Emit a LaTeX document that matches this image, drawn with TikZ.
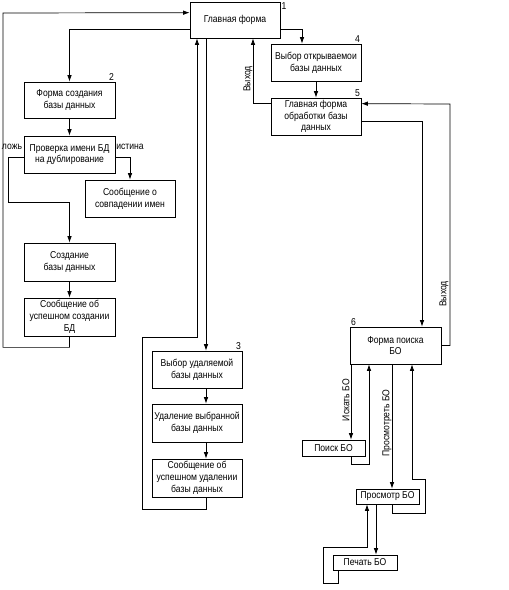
\documentclass[tikz,border=0pt]{standalone}
\usepackage{fontspec}
\setmainfont[FakeStretch=0.86]{Liberation Sans}
\usetikzlibrary{arrows.meta}

\begin{document}
\begin{tikzpicture}[x=1pt,y=-1pt,line width=0.7pt,
  every node/.style={font=\fontsize{10}{11.8}\selectfont},
  box/.style={draw,align=center,minimum width=91pt,minimum height=37pt,inner sep=1pt},
  sbox/.style={draw,minimum width=63pt,minimum height=16pt,inner sep=1pt},
  num/.style={inner sep=1pt},
  arr/.style={-{Latex[length=6.5pt,width=4.5pt]}}]
  \useasboundingbox (0,0) rectangle (509,590);
  % main form and database creation
  \node[box,minimum width=90pt,minimum height=36pt] (b1) at (235,20) {Главная форма};
  \node[box,minimum height=36pt] (b2) at (69.5,100) {Форма создания\\базы данных};
  \node[box] (chk) at (69.5,154.5) {Проверка имени БД\\на дублирование};
  \node[box,minimum width=90pt] (same) at (130,198.5) {Сообщение о\\совпадении имен};
  \node[box,minimum height=38pt] (crt) at (69.5,262) {Создание\\базы данных};
  \node[box,minimum height=38pt] (okc) at (69.5,317) {Сообщение об\\успешном создании\\БД};
  % deletion
  \node[box,minimum width=90pt] (b3) at (197,369.5) {Выбор удаляемой\\базы данных};
  \node[box,minimum width=90pt,minimum height=38pt] (del) at (197,423) {Удаление выбранной\\базы данных};
  \node[box,minimum width=90pt,minimum height=38pt] (okd) at (197,478) {Сообщение об\\успешном удалении\\базы данных};
  % opening and search
  \node[box,minimum width=90pt] (b4) at (316,62.5) {Выбор открываемои\\базы данных};
  \node[box,minimum width=90pt] (b5) at (316,116.5) {Главная форма\\обработки базы\\данных};
  \node[box] (b6) at (395.5,345.5) {Форма поиска\\БО};
  \node[sbox] (find) at (333.5,448) {Поиск БО};
  \node[sbox,minimum height=15pt] (view) at (387.5,496.5) {Просмотр БО};
  \node[sbox,minimum width=64pt,minimum height=15pt] (print) at (365,562.5) {Печать БО};
  % numbers
  \node[num,anchor=north west] (n1) at (b1.north east) {1};
  \node[num,anchor=south east] (n2) at (b2.north east) {2};
  \node[num,anchor=south east] (n3) at (b3.north east) {3};
  \node[num,anchor=south east] (n4) at (b4.north east) {4};
  \node[num,anchor=south east] (n5) at (b5.north east) {5};
  \node[num,anchor=south west] (n6) at (b6.north west) {6};
  % labels
  \node (lf) at (12,147) {ложь};
  \node (lt) at (130,147) {истина};
  \node[rotate=90] (ex1) at (248,79) {Выход};
  \node[rotate=90] (ex2) at (444,294) {Выход};
  \node[rotate=90] (q1) at (346,400) {Искать БО};
  \node[rotate=90] (q2) at (387,423) {Просмотреть БО};
  % connectors
  \draw[arr] (okc.south) -- ++(0,11) -| (3,13) -- ([yshift=-11pt]b1.north west);
  \draw[arr] ([yshift=9pt]b1.south west) -| (b2.north);
  \draw[arr] (b2.south) -- (chk.north);
  \draw[arr] ([yshift=16pt]chk.south west) -- ++(-15,0) -- ++(0,45) -| (crt.north);
  \draw[arr] ([yshift=16pt]chk.south east) -| (same.north);
  \draw[arr] (crt.south) -- (okc.north);
  \draw[arr] (b1.south -| 206,0) -- (b3.north -| 206,0);
  \draw[arr] (b3.south -| 206,0) -- (del.north -| 206,0);
  \draw[arr] (del.south -| 206,0) -- (okd.north -| 206,0);
  \draw[arr] (okd.south -| 206,0) -- ++(0,12) -| (142,337) -| (b1.south -| 197,0);
  \draw[arr] ([yshift=9pt]b1.south east) -| (b4.north -| 302,0);
  \draw[arr] (b4.south) -- (b5.north);
  \draw[arr] ([yshift=-6pt]b5.north west) -| (b1.south -| 253,0);
  \draw[arr] (b6.east) -| (450,104) -- ([yshift=-6pt]b5.north east);
  \draw[arr] ([yshift=14pt]b5.south east) -| (b6.north -| 422,0);
  \draw[arr] (b6.south -| 351,0) -- (find.north -| 351,0);
  \draw[arr] (find.south -| 351,0) |- (369,464) -- (b6.south -| 369,0);
  \draw[arr] (b6.south -| 392,0) -- (view.north -| 392,0);
  \draw[arr] (view.south -| 392,0) |- (425,513) |- (412,479) -- (b6.south -| 412,0);
  \draw[arr] (view.south -| 376,0) -- (print.north -| 376,0);
  \draw[arr] (print.south -| 338,0) |- (323,583) |- (367,547) -- (view.south -| 367,0);
\end{tikzpicture}
\end{document}
